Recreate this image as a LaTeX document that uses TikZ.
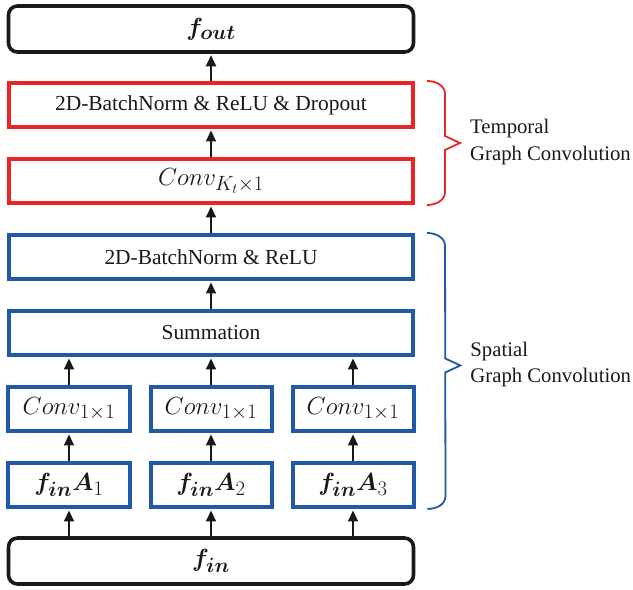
\documentclass[tikz,border=0pt]{standalone}
\usepackage{fontspec}
\setmainfont{Liberation Serif}
\usepackage{amsmath,bm}
\usetikzlibrary{arrows.meta,calc}
\definecolor{tgcred}{RGB}{232,38,38}
\definecolor{sgcblue}{RGB}{32,88,170}
\definecolor{ink}{RGB}{25,25,25}
\begin{document}
\begin{tikzpicture}[x=1bp,y=1bp,
  box/.style={draw, line width=4bp, minimum height=44bp, inner sep=0pt, fill=white, text=ink},
  redbox/.style={box, draw=tgcred, minimum width=404bp},
  bluebox/.style={box, draw=sgcblue, minimum width=404bp},
  colbox/.style={box, draw=sgcblue, minimum width=121bp},
  endbox/.style={box, draw=ink, rounded corners=9bp, minimum width=405bp, minimum height=46bp, line width=3.6bp},
  flow/.style={-{Triangle[length=11bp,width=10bp]}, line width=2bp, ink, shorten >=1.5bp},
  gcbrace/.style={line width=1.8bp, line join=miter},
  txt/.style={font=\fontsize{21.5}{26}\selectfont},
  mth/.style={font=\fontsize{29}{34}\selectfont},
  lbl/.style={font=\fontsize{20.8}{27}\selectfont, align=left, anchor=west, inner sep=0pt, text=ink}
]
\useasboundingbox (0,0) rectangle (633,590);

% output and input
\node[endbox, mth] (fout) at (211,561) {$\bm{f}_{\bm{out}}$};
\node[endbox, mth] (fin)  at (211,29)  {$\bm{f}_{\bm{in}}$};

% temporal graph convolution
\node[redbox, txt] (tdrop) at (211,485) {2D-BatchNorm \& ReLU \& Dropout};
\node[redbox, mth] (tconv) at (211,409) {$Conv_{K_t\times 1}$};

% spatial graph convolution
\node[bluebox, txt] (sbn)  at (211,333) {2D-BatchNorm \& ReLU};
\node[bluebox, txt] (ssum) at (211,257) {Summation};
\foreach \i/\x in {1/69,2/211,3/353}{
  \node[colbox, mth] (conv\i) at (\x,181) {$Conv_{1\times 1}$};
  \node[colbox, mth] (fa\i)   at (\x,105) {$\bm{f}_{\bm{in}}\bm{A}_{\i}$};
}

% data flow
\draw[flow] (tdrop) -- (fout);
\draw[flow] (tconv) -- (tdrop);
\draw[flow] (sbn) -- (tconv);
\draw[flow] (ssum) -- (sbn);
\foreach \i in {1,2,3}{
  \draw[flow] (conv\i.north) -- (ssum.south -| conv\i.north);
  \draw[flow] (fa\i) -- (conv\i);
  \draw[flow] (fin.north -| fa\i.south) -- (fa\i.south);
}

% braces: curled ends, straight back, pointed tip
\coordinate (rt) at ($(tdrop.north east)+(12,0)$);
\coordinate (rb) at ($(tconv.south east)+(12,0)$);
\coordinate (rm) at ($(rt)!0.5!(rb)$);
\coordinate (bt) at ($(sbn.north east)+(12,0)$);
\coordinate (bb) at ($(fa3.south east)+(12,0)$);
\coordinate (bm) at ($(bt)!0.48!(bb)$);
\draw[gcbrace, tgcred] (rt) to[out=0,in=90] ($(rt)+(18,-13)$) -- ($(rm)+(18,7)$)
  -- ($(rm)+(33,0)$) -- ($(rm)+(18,-7)$) -- ($(rb)+(18,13)$) to[out=-90,in=0] (rb);
\draw[gcbrace, sgcblue] (bt) to[out=0,in=90] ($(bt)+(18,-13)$) -- ($(bm)+(18,7)$)
  -- ($(bm)+(33,0)$) -- ($(bm)+(18,-7)$) -- ($(bb)+(18,13)$) to[out=-90,in=0] (bb);

% brace labels
\node[lbl] (tlbl) at ($(rm)+(43,1)$) {Temporal\\Graph Convolution};
\node[lbl] (slbl) at ($(bm)+(43,1)$) {Spatial\\Graph Convolution};
\end{tikzpicture}
\end{document}
